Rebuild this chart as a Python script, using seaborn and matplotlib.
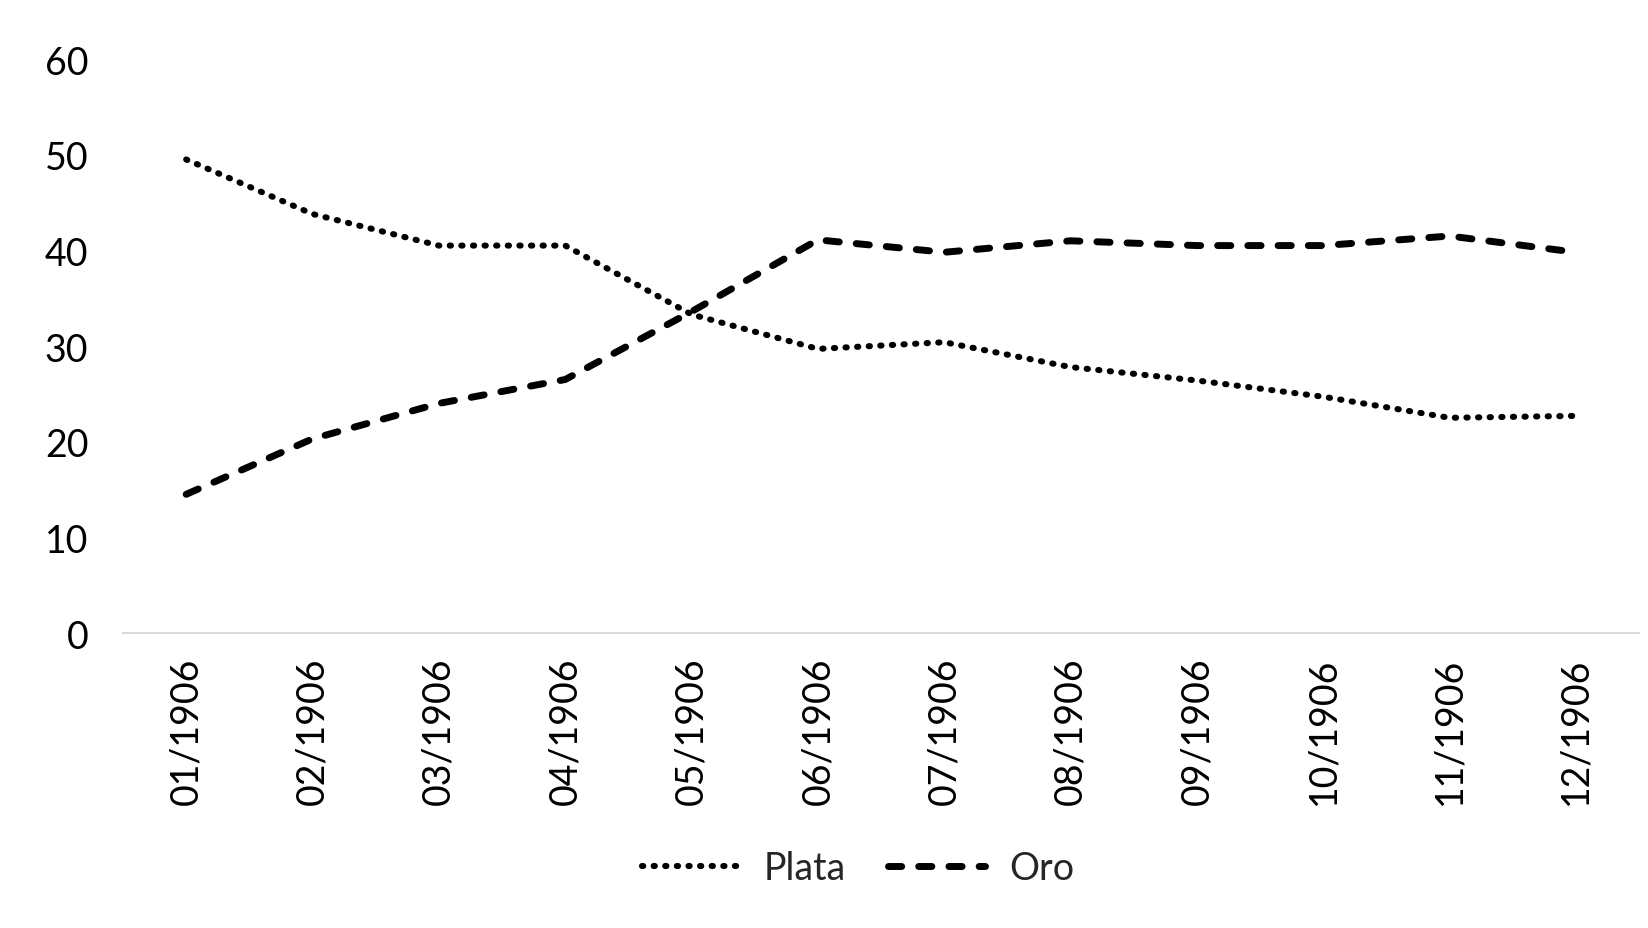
import matplotlib
matplotlib.use("Agg")
import matplotlib.pyplot as plt
import seaborn as sns
import pandas as pd

# Data
months = ['01/1906', '02/1906', '03/1906', '04/1906', '05/1906', '06/1906',
          '07/1906', '08/1906', '09/1906', '10/1906', '11/1906', '12/1906']
plata = [49.5, 43.8, 40.5, 40.5, 33.3, 29.7, 30.4, 27.8, 26.4, 24.7, 22.5, 22.7]
oro = [14.5, 20.3, 24.0, 26.5, 33.6, 41.1, 39.8, 41.0, 40.5, 40.5, 41.5, 39.8]

df = pd.DataFrame({'mes': range(len(months)), 'Plata': plata, 'Oro': oro})

sns.set_theme(style='white')
plt.rcParams['font.family'] = ['Lato', 'DejaVu Sans']

fig = plt.figure(figsize=(16.49, 9.29), dpi=100)
ax = fig.add_axes([0.0746, 0.3175, 0.9194, 0.6179])

sns.lineplot(data=df, x='mes', y='Plata', ax=ax, color='black', linewidth=4.4,
             label='Plata')
sns.lineplot(data=df, x='mes', y='Oro', ax=ax, color='black', linewidth=5.0,
             label='Oro')

# line styles: round dotted and thick dashed
lp, lo = ax.lines[0], ax.lines[1]
lp.set_dashes((0.2, 1.7))
lp.set_dash_capstyle('round')
lo.set_dashes((1.9, 2.45))
lo.set_dash_capstyle('round')

ax.set_xlim(-0.5, len(months) - 0.5)
ax.set_ylim(0, 60)
ax.set_yticks(range(0, 61, 10))
ax.set_xticks(range(len(months)))
ax.set_xticklabels(months, rotation=90)
ax.tick_params(axis='both', labelsize=27, length=0, colors='black')
ax.tick_params(axis='y', pad=25)
ax.tick_params(axis='x', pad=17)
ax.set_xlabel('')
ax.set_ylabel('')

for side in ['top', 'right', 'left']:
    ax.spines[side].set_visible(False)
ax.spines['bottom'].set_color('#d9d9d9')
ax.spines['bottom'].set_linewidth(1.5)

leg = ax.legend(loc='center', bbox_to_anchor=(0.485, -0.41), ncol=2, frameon=False,
                fontsize=27, handlelength=2.6, columnspacing=1.1, handletextpad=0.65)
for h in leg.get_lines():
    h.set_dash_capstyle('round')

fig.savefig('out.png', dpi=100)
